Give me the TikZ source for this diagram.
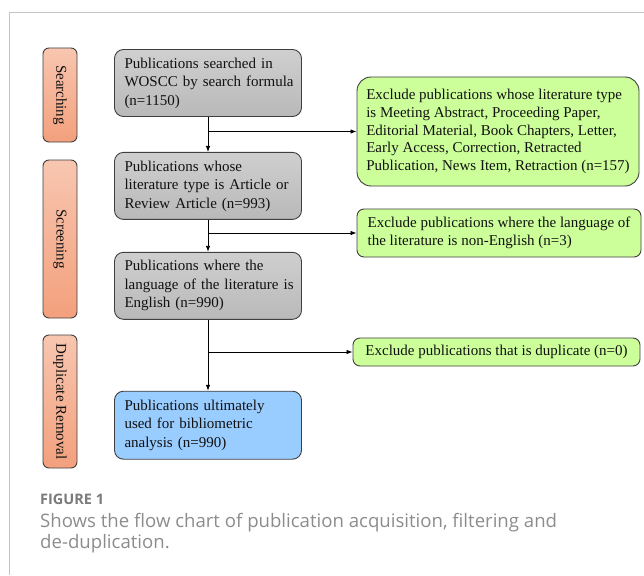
\documentclass[tikz,border=0pt]{standalone}
\usepackage{fontspec}
\setmainfont{Liberation Serif}
\newfontfamily\capfont{Open Sans}
\usepackage{tikz}
\usetikzlibrary{arrows.meta,positioning}
\definecolor{Ink}{HTML}{111111}
\definecolor{Edge}{HTML}{3F3F3F}
\definecolor{Frame}{HTML}{C4C4C4}
\definecolor{Caption}{HTML}{8C8C8C}
\definecolor{CaptionHead}{HTML}{7A7A7A}
\definecolor{StageTop}{HTML}{F8C6B0}
\definecolor{StageBot}{HTML}{F3A07D}
\definecolor{GreyTop}{HTML}{CFCFCF}
\definecolor{GreyBot}{HTML}{B9B9B9}
\definecolor{BlueSoft}{HTML}{99CCFF}
\definecolor{GreenSoft}{HTML}{CCFF99}
\tikzset{
  stage/.style={draw=Edge,line width=0.9pt,rounded corners=6pt,rotate=-90,top color=StageTop,bottom color=StageBot,minimum height=34pt,inner sep=0pt,text=Ink},
  record/.style={draw=Edge,line width=0.9pt,rounded corners=9pt,minimum width=187pt,minimum height=67pt,text width=182pt,inner xsep=2.5pt,align=left,text=Ink,execute at begin node={\leftskip=7.5pt}},
  recordgrey/.style={record,top color=GreyTop,bottom color=GreyBot},
  recordblue/.style={record,fill=BlueSoft},
  exclude/.style={draw=Edge,line width=0.9pt,rounded corners=7pt,fill=GreenSoft,align=left,inner xsep=2pt,inner ysep=0pt,text=Ink}
  ,arrow/.style={-{Latex[length=6pt,width=4.5pt]},line width=0.8pt,draw=black}
}
\begin{document}
\begin{tikzpicture}[x=1pt,y=-1pt,font=\fontsize{15}{18.5}\selectfont]
\useasboundingbox (0,0) rectangle (644,575);
\draw[Frame,line width=0.8pt] (9,575) -- (9,12.7) -- (644,12.7);
\node[stage,minimum width=94pt] (searching) at (60,95) {Searching};
\node[stage,minimum width=158pt] (screening) at (60,239) {Screening};
\node[stage,minimum width=133pt] (dedup) at (60,401.5) {Duplicate Removal};
\node[recordgrey] (search) at (208,83) {Publications searched in\\WOSCC by search formula\\(n=1150)};
\node[recordgrey,below=35pt of search] (type) {Publications whose\\literature type is Article or\\Review Article (n=993)};
\node[recordgrey,below=32pt of type] (lang) {Publications where the\\language of the literature is\\English (n=990)};
\node[recordblue,below=71pt of lang,minimum height=68pt] (final) {Publications ultimately\\used for bibliometric\\analysis (n=990)};
\node[exclude,rounded corners=14pt,minimum width=282pt,minimum height=109pt,font=\fontsize{15}{17.8}\selectfont] (exType) at (498,131.5) {Exclude publications whose literature type\\is Meeting Abstract, Proceeding Paper,\\Editorial Material, Book Chapters, Letter,\\Early Access, Correction, Retracted\\Publication, News Item, Retraction (n=157)};
\node[exclude,minimum width=284pt,minimum height=48pt] (exLang) at (499,233) {Exclude publications where the language of\\the literature is non-English (n=3)};
\node[exclude,minimum width=287pt,minimum height=28pt] (exDup) at (496.5,352) {Exclude publications that is duplicate (n=0)};
\draw[arrow] (search) -- (type);
\draw[arrow] (type) -- (lang);
\draw[arrow] (lang) -- (final);
\draw[arrow] (search.south |- exType.west) -- (exType.west);
\draw[arrow] (type.south |- exLang.west) -- (exLang.west);
\draw[arrow] (lang.south |- exDup.west) -- (exDup.west);
\node[anchor=base west,inner sep=0pt,font=\capfont\bfseries\fontsize{14.5}{18}\selectfont,text=CaptionHead] (fig) at (40,504) {FIGURE 1};
\node[anchor=base west,inner sep=0pt,font=\capfont\fontsize{18.6}{21}\selectfont,text=Caption] (cap) at (40,527) {Shows the flow chart of publication acquisition, filtering and};
\node[anchor=base west,inner sep=0pt,font=\capfont\fontsize{18.6}{21}\selectfont,text=Caption] (capb) at (40,548) {de-duplication.};
\end{tikzpicture}
\end{document}
